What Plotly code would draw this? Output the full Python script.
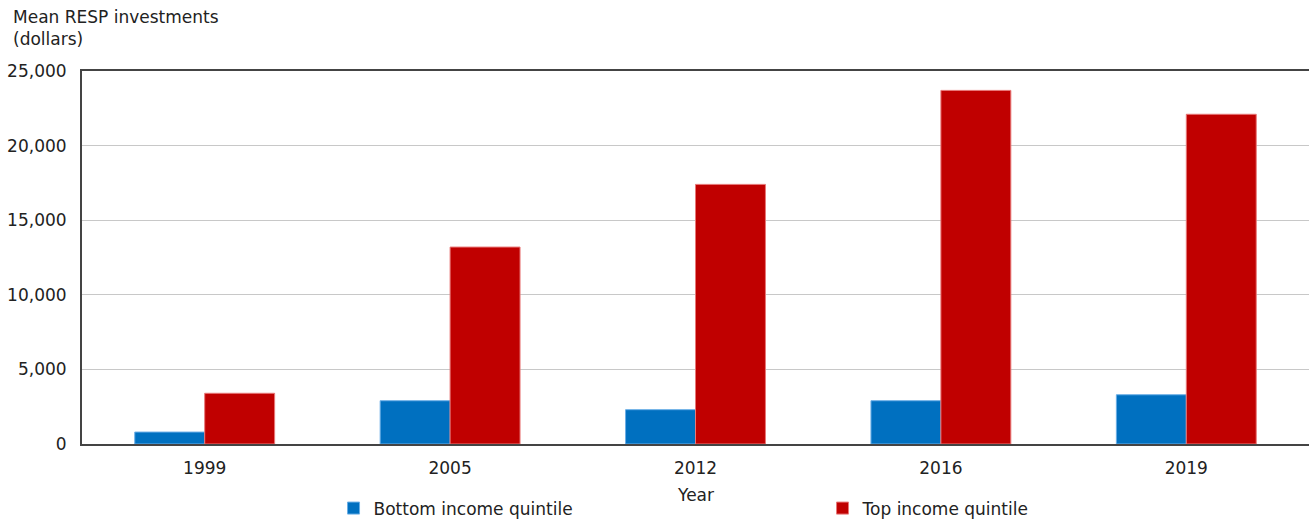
import plotly.graph_objects as go

# Mean RESP investments by income quintile, selected survey years
years = ["1999", "2005", "2012", "2016", "2019"]
bottom_quintile = [800, 2900, 2300, 2900, 3300]
top_quintile = [3400, 13200, 17400, 23700, 22100]

y_ticks = [0, 5000, 10000, 15000, 20000, 25000]
y_tick_text = ["0", "5,000", "10,000", "15,000", "20,000", "25,000"]

FONT = "DejaVu Sans"
TEXT = "#222222"
SIZE = 17

fig = go.Figure()
fig.add_trace(go.Bar(
    x=years, y=bottom_quintile, name="Bottom income quintile",
    marker=dict(color="#0070c0", line=dict(color="#6aaee6", width=1)),
))
fig.add_trace(go.Bar(
    x=years, y=top_quintile, name="Top income quintile",
    marker=dict(color="#c00000", line=dict(color="#e87878", width=1)),
))

fig.update_layout(
    width=1309, height=521,
    margin=dict(l=82, r=0, t=71, b=77, pad=0, autoexpand=False),
    paper_bgcolor="white", plot_bgcolor="white",
    font=dict(family=FONT, size=SIZE, color=TEXT),
    barmode="group", bargap=0.43, bargroupgap=0,
    showlegend=True,
    legend=dict(
        orientation="h", x=0.205, xanchor="left", y=-0.173, yanchor="middle",
        entrywidth=444, entrywidthmode="pixels",
        font=dict(family=FONT, size=SIZE, color=TEXT),
        bgcolor="rgba(0,0,0,0)",
    ),
    xaxis=dict(
        showline=True, linecolor="#444444", linewidth=2, mirror=True,
        showgrid=False, ticks="", ticklabelstandoff=8,
        tickfont=dict(family=FONT, size=SIZE, color=TEXT),
    ),
    yaxis=dict(
        range=[0, 25000], tickvals=y_ticks, ticktext=y_tick_text,
        showline=True, linecolor="#444444", linewidth=2,
        showgrid=True, gridcolor="#c8c8c8", gridwidth=1,
        zeroline=False, ticks="", ticklabelstandoff=10,
        tickfont=dict(family=FONT, size=SIZE, color=TEXT),
    ),
    annotations=[
        dict(text="Mean RESP investments<br>(dollars)", xref="paper", yref="paper",
             x=-0.058, y=1.178, xanchor="left", yanchor="top", align="left",
             showarrow=False, font=dict(family=FONT, size=SIZE, color=TEXT)),
        dict(text="Year", xref="paper", yref="paper", x=0.5, y=-0.1356,
             xanchor="center", yanchor="middle", showarrow=False,
             font=dict(family=FONT, size=SIZE, color=TEXT)),
    ],
)

fig.write_html("out.html")
